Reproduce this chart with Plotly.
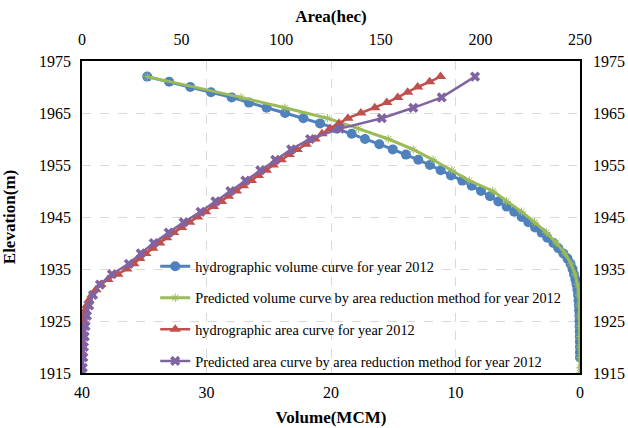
import plotly.graph_objects as go

# Hydrographic survey (2012): elevation-volume, 1 m steps
elev_hydro = list(range(1918, 1973))
volume_hydro = [0, 0.002, 0.005, 0.01, 0.015, 0.02, 0.03, 0.04, 0.05, 0.07,
                0.09, 0.12, 0.16, 0.21, 0.28, 0.37, 0.48, 0.6, 0.76, 1.0,
                1.34, 1.74, 2.14, 2.63, 3.08, 3.61, 4.15, 4.68, 5.28, 5.89,
                6.56, 7.23, 7.95, 8.70, 9.45, 10.36, 11.19, 12.05, 12.99, 13.98,
                15.04, 16.12, 17.27, 18.34, 19.54, 20.88, 22.22, 23.69, 25.17, 26.59,
                27.98, 29.64, 31.30, 33.00, 34.76]
area_hydro = [0, 0, 0, 0, 0.1, 0.2, 0.3, 0.5, 1, 1.5,
              2.5, 3.5, 5, 7, 9.5, 13, 18, 22.5, 26, 29,
              32, 35.5, 39, 42.5, 46, 50, 54, 58, 62, 66,
              70, 73.5, 77.5, 81, 85, 88.5, 92.5, 96, 100, 104,
              108, 112.5, 117, 120.5, 124.5, 129, 133.5, 140, 147, 153,
              158.5, 163.5, 168.5, 174.5, 180]

# Area reduction method predictions (2012)
elev_pred = [1915] + list(range(1916, 1969, 2)) + [1972]
volume_pred = [0, 0, 0, 0.005, 0.01, 0.02, 0.03, 0.05, 0.1, 0.2,
               0.4, 0.72, 1.2, 1.9, 2.7, 3.65, 4.7, 5.9, 7.0, 8.9,
               10.3, 11.8, 13.4, 15.4, 17.8, 20.3, 23.7, 27.23, 34.76]
area_pred = [0, 0.4, 0.7, 1.0, 1.4, 1.8, 2.5, 3.6, 5.5, 9,
             15, 23.5, 29.5, 36, 43.5, 51, 59.5, 67, 74.5, 82,
             89.5, 97, 105, 114.5, 129.5, 150.5, 166.3, 180.6, 197.3]

vol_ticks = [40, 30, 20, 10, 0]
area_ticks = [0, 50, 100, 150, 200, 250]
elev_ticks = [1915, 1925, 1935, 1945, 1955, 1965, 1975]

SERIF = "Liberation Serif, Times New Roman, serif"
BLUE, GREEN, RED, PURPLE = "#4f81bd", "#9bbb59", "#c0504d", "#8064a2"

fig = go.Figure()
fig.add_trace(go.Scatter(
    x=volume_hydro, y=elev_hydro, mode="lines+markers",
    name="hydrographic volume curve for year 2012", legendgroup="a",
    line=dict(color=BLUE, width=3),
    marker=dict(symbol="circle", size=10, color=BLUE),
    xaxis="x", yaxis="y"))
fig.add_trace(go.Scatter(
    x=volume_pred, y=elev_pred, mode="lines+markers",
    name="Predicted volume curve by area reduction method for year 2012", legendgroup="b",
    line=dict(color=GREEN, width=3),
    marker=dict(symbol="asterisk", size=7, color=GREEN, line=dict(color=GREEN, width=1)),
    xaxis="x", yaxis="y"))
fig.add_trace(go.Scatter(
    x=area_hydro, y=elev_hydro, mode="lines+markers",
    name="hydrographic area curve for year 2012", legendgroup="c",
    line=dict(color=RED, width=2.5),
    marker=dict(symbol="triangle-up", size=10, color=RED),
    xaxis="x2", yaxis="y2"))
fig.add_trace(go.Scatter(
    x=area_pred, y=elev_pred, mode="lines+markers",
    name="Predicted area curve by area reduction method for year 2012", legendgroup="d",
    line=dict(color=PURPLE, width=2.5),
    marker=dict(symbol="x", size=9, color=PURPLE),
    xaxis="x2", yaxis="y2"))


def axis_style(ticklen=4):
    return dict(showline=True, linecolor="black", linewidth=1.5, zeroline=False,
                automargin=False, ticks="outside", ticklen=ticklen,
                tickcolor="rgba(0,0,0,0)",
                tickfont=dict(family=SERIF, size=16, color="black"))


fig.update_layout(
    width=628, height=428,
    margin=dict(l=82, r=48, t=61, b=55),
    paper_bgcolor="white", plot_bgcolor="white",
    font=dict(family=SERIF, color="black"),
    xaxis=dict(range=[40, 0], tickvals=vol_ticks, showgrid=True,
               gridcolor="#d9d9d9", griddash="dash", gridwidth=1,
               title=dict(text="<b>Volume(MCM)</b>", font=dict(family=SERIF, size=17), standoff=11),
               **axis_style(4)),
    xaxis2=dict(range=[0, 250], tickvals=area_ticks, overlaying="x", side="top",
                showgrid=False, anchor="y2",
                title=dict(text="<b>Area(hec)</b>", font=dict(family=SERIF, size=17), standoff=4),
                **axis_style(8)),
    yaxis=dict(range=[1915, 1975], tickvals=elev_ticks, showgrid=True,
               gridcolor="#d9d9d9", griddash="dash", gridwidth=1,
               title=dict(text="<b>Elevation(m)</b>", font=dict(family=SERIF, size=17), standoff=19),
               **axis_style(6)),
    yaxis2=dict(range=[1915, 1975], tickvals=elev_ticks, overlaying="y", side="right",
                showgrid=False, anchor="x2", **axis_style(8)),
    legend=dict(x=0.147, y=0.393, xanchor="left", yanchor="top",
                bgcolor="rgba(0,0,0,0)", borderwidth=0, traceorder="grouped",
                tracegroupgap=10, itemwidth=30,
                font=dict(family=SERIF, size=14.3, color="black")),
    # white panel behind the legend entries: hides gridlines, keeps curves visible
    shapes=[dict(type="rect", xref="paper", yref="paper", layer="between",
                 x0=0.156, x1=0.962, y0=0.006, y1=0.394,
                 fillcolor="white", line=dict(width=0))],
)

fig.write_html("out.html")
